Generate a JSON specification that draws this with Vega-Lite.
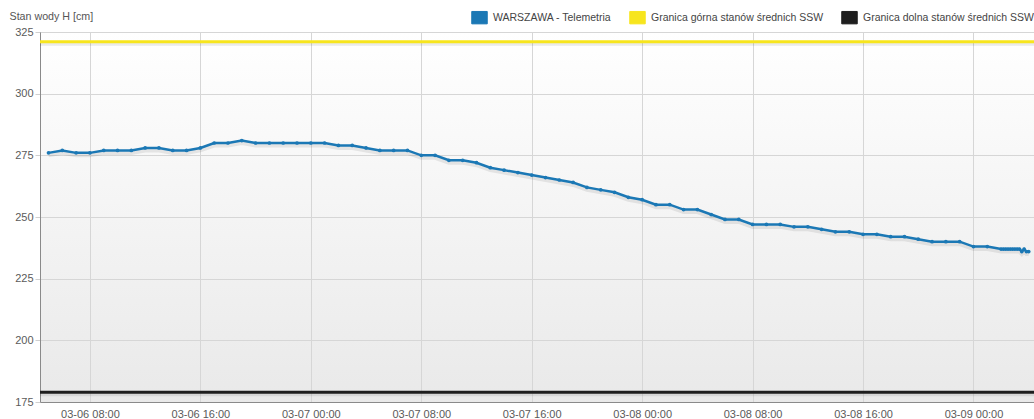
{
  "$schema": "https://vega.github.io/schema/vega-lite/v6.json",
  "width": 994,
  "height": 370,
  "autosize": {"type": "none"},
  "padding": {"left": 40, "top": 32, "right": 0, "bottom": 17},
  "background": "#ffffff",
  "config": {
    "font": "Liberation Sans",
    "view": {
      "stroke": "#9a9a9a",
      "fill": {"gradient": "linear", "x1": 0, "y1": 0, "x2": 0, "y2": 1,
        "stops": [{"offset": 0, "color": "#ffffff"}, {"offset": 1, "color": "#e9e9e9"}]}
    },
    "axis": {
      "gridColor": "#d6d6d6",
      "domainColor": "#8a8a8a",
      "labelColor": "#5a5a5a",
      "labelFontSize": 11,
      "tickColor": "#cfcfcf",
      "labelFlush": false
    }
  },
  "datasets": {
    "tel": [
      {"t": "2024-03-06T05:00:00Z", "v": 276, "s": "WARSZAWA - Telemetria"},
      {"t": "2024-03-06T06:00:00Z", "v": 277, "s": "WARSZAWA - Telemetria"},
      {"t": "2024-03-06T07:00:00Z", "v": 276, "s": "WARSZAWA - Telemetria"},
      {"t": "2024-03-06T08:00:00Z", "v": 276, "s": "WARSZAWA - Telemetria"},
      {"t": "2024-03-06T09:00:00Z", "v": 277, "s": "WARSZAWA - Telemetria"},
      {"t": "2024-03-06T10:00:00Z", "v": 277, "s": "WARSZAWA - Telemetria"},
      {"t": "2024-03-06T11:00:00Z", "v": 277, "s": "WARSZAWA - Telemetria"},
      {"t": "2024-03-06T12:00:00Z", "v": 278, "s": "WARSZAWA - Telemetria"},
      {"t": "2024-03-06T13:00:00Z", "v": 278, "s": "WARSZAWA - Telemetria"},
      {"t": "2024-03-06T14:00:00Z", "v": 277, "s": "WARSZAWA - Telemetria"},
      {"t": "2024-03-06T15:00:00Z", "v": 277, "s": "WARSZAWA - Telemetria"},
      {"t": "2024-03-06T16:00:00Z", "v": 278, "s": "WARSZAWA - Telemetria"},
      {"t": "2024-03-06T17:00:00Z", "v": 280, "s": "WARSZAWA - Telemetria"},
      {"t": "2024-03-06T18:00:00Z", "v": 280, "s": "WARSZAWA - Telemetria"},
      {"t": "2024-03-06T19:00:00Z", "v": 281, "s": "WARSZAWA - Telemetria"},
      {"t": "2024-03-06T20:00:00Z", "v": 280, "s": "WARSZAWA - Telemetria"},
      {"t": "2024-03-06T21:00:00Z", "v": 280, "s": "WARSZAWA - Telemetria"},
      {"t": "2024-03-06T22:00:00Z", "v": 280, "s": "WARSZAWA - Telemetria"},
      {"t": "2024-03-06T23:00:00Z", "v": 280, "s": "WARSZAWA - Telemetria"},
      {"t": "2024-03-07T00:00:00Z", "v": 280, "s": "WARSZAWA - Telemetria"},
      {"t": "2024-03-07T01:00:00Z", "v": 280, "s": "WARSZAWA - Telemetria"},
      {"t": "2024-03-07T02:00:00Z", "v": 279, "s": "WARSZAWA - Telemetria"},
      {"t": "2024-03-07T03:00:00Z", "v": 279, "s": "WARSZAWA - Telemetria"},
      {"t": "2024-03-07T04:00:00Z", "v": 278, "s": "WARSZAWA - Telemetria"},
      {"t": "2024-03-07T05:00:00Z", "v": 277, "s": "WARSZAWA - Telemetria"},
      {"t": "2024-03-07T06:00:00Z", "v": 277, "s": "WARSZAWA - Telemetria"},
      {"t": "2024-03-07T07:00:00Z", "v": 277, "s": "WARSZAWA - Telemetria"},
      {"t": "2024-03-07T08:00:00Z", "v": 275, "s": "WARSZAWA - Telemetria"},
      {"t": "2024-03-07T09:00:00Z", "v": 275, "s": "WARSZAWA - Telemetria"},
      {"t": "2024-03-07T10:00:00Z", "v": 273, "s": "WARSZAWA - Telemetria"},
      {"t": "2024-03-07T11:00:00Z", "v": 273, "s": "WARSZAWA - Telemetria"},
      {"t": "2024-03-07T12:00:00Z", "v": 272, "s": "WARSZAWA - Telemetria"},
      {"t": "2024-03-07T13:00:00Z", "v": 270, "s": "WARSZAWA - Telemetria"},
      {"t": "2024-03-07T14:00:00Z", "v": 269, "s": "WARSZAWA - Telemetria"},
      {"t": "2024-03-07T15:00:00Z", "v": 268, "s": "WARSZAWA - Telemetria"},
      {"t": "2024-03-07T16:00:00Z", "v": 267, "s": "WARSZAWA - Telemetria"},
      {"t": "2024-03-07T17:00:00Z", "v": 266, "s": "WARSZAWA - Telemetria"},
      {"t": "2024-03-07T18:00:00Z", "v": 265, "s": "WARSZAWA - Telemetria"},
      {"t": "2024-03-07T19:00:00Z", "v": 264, "s": "WARSZAWA - Telemetria"},
      {"t": "2024-03-07T20:00:00Z", "v": 262, "s": "WARSZAWA - Telemetria"},
      {"t": "2024-03-07T21:00:00Z", "v": 261, "s": "WARSZAWA - Telemetria"},
      {"t": "2024-03-07T22:00:00Z", "v": 260, "s": "WARSZAWA - Telemetria"},
      {"t": "2024-03-07T23:00:00Z", "v": 258, "s": "WARSZAWA - Telemetria"},
      {"t": "2024-03-08T00:00:00Z", "v": 257, "s": "WARSZAWA - Telemetria"},
      {"t": "2024-03-08T01:00:00Z", "v": 255, "s": "WARSZAWA - Telemetria"},
      {"t": "2024-03-08T02:00:00Z", "v": 255, "s": "WARSZAWA - Telemetria"},
      {"t": "2024-03-08T03:00:00Z", "v": 253, "s": "WARSZAWA - Telemetria"},
      {"t": "2024-03-08T04:00:00Z", "v": 253, "s": "WARSZAWA - Telemetria"},
      {"t": "2024-03-08T05:00:00Z", "v": 251, "s": "WARSZAWA - Telemetria"},
      {"t": "2024-03-08T06:00:00Z", "v": 249, "s": "WARSZAWA - Telemetria"},
      {"t": "2024-03-08T07:00:00Z", "v": 249, "s": "WARSZAWA - Telemetria"},
      {"t": "2024-03-08T08:00:00Z", "v": 247, "s": "WARSZAWA - Telemetria"},
      {"t": "2024-03-08T09:00:00Z", "v": 247, "s": "WARSZAWA - Telemetria"},
      {"t": "2024-03-08T10:00:00Z", "v": 247, "s": "WARSZAWA - Telemetria"},
      {"t": "2024-03-08T11:00:00Z", "v": 246, "s": "WARSZAWA - Telemetria"},
      {"t": "2024-03-08T12:00:00Z", "v": 246, "s": "WARSZAWA - Telemetria"},
      {"t": "2024-03-08T13:00:00Z", "v": 245, "s": "WARSZAWA - Telemetria"},
      {"t": "2024-03-08T14:00:00Z", "v": 244, "s": "WARSZAWA - Telemetria"},
      {"t": "2024-03-08T15:00:00Z", "v": 244, "s": "WARSZAWA - Telemetria"},
      {"t": "2024-03-08T16:00:00Z", "v": 243, "s": "WARSZAWA - Telemetria"},
      {"t": "2024-03-08T17:00:00Z", "v": 243, "s": "WARSZAWA - Telemetria"},
      {"t": "2024-03-08T18:00:00Z", "v": 242, "s": "WARSZAWA - Telemetria"},
      {"t": "2024-03-08T19:00:00Z", "v": 242, "s": "WARSZAWA - Telemetria"},
      {"t": "2024-03-08T20:00:00Z", "v": 241, "s": "WARSZAWA - Telemetria"},
      {"t": "2024-03-08T21:00:00Z", "v": 240, "s": "WARSZAWA - Telemetria"},
      {"t": "2024-03-08T22:00:00Z", "v": 240, "s": "WARSZAWA - Telemetria"},
      {"t": "2024-03-08T23:00:00Z", "v": 240, "s": "WARSZAWA - Telemetria"},
      {"t": "2024-03-09T00:00:00Z", "v": 238, "s": "WARSZAWA - Telemetria"},
      {"t": "2024-03-09T01:00:00Z", "v": 238, "s": "WARSZAWA - Telemetria"},
      {"t": "2024-03-09T02:00:00Z", "v": 237, "s": "WARSZAWA - Telemetria"},
      {"t": "2024-03-09T02:10:00Z", "v": 237, "s": "WARSZAWA - Telemetria"},
      {"t": "2024-03-09T02:20:00Z", "v": 237, "s": "WARSZAWA - Telemetria"},
      {"t": "2024-03-09T02:30:00Z", "v": 237, "s": "WARSZAWA - Telemetria"},
      {"t": "2024-03-09T02:40:00Z", "v": 237, "s": "WARSZAWA - Telemetria"},
      {"t": "2024-03-09T02:50:00Z", "v": 237, "s": "WARSZAWA - Telemetria"},
      {"t": "2024-03-09T03:00:00Z", "v": 237, "s": "WARSZAWA - Telemetria"},
      {"t": "2024-03-09T03:10:00Z", "v": 237, "s": "WARSZAWA - Telemetria"},
      {"t": "2024-03-09T03:20:00Z", "v": 237, "s": "WARSZAWA - Telemetria"},
      {"t": "2024-03-09T03:30:00Z", "v": 236, "s": "WARSZAWA - Telemetria"},
      {"t": "2024-03-09T03:40:00Z", "v": 237, "s": "WARSZAWA - Telemetria"},
      {"t": "2024-03-09T03:50:00Z", "v": 236, "s": "WARSZAWA - Telemetria"},
      {"t": "2024-03-09T04:00:00Z", "v": 236, "s": "WARSZAWA - Telemetria"}
    ],
    "bounds": [
      {"s": "Granica górna stanów średnich SSW", "v": 321},
      {"s": "Granica dolna stanów średnich SSW", "v": 179}
    ]
  },
  "layer": [
    {
      "data": {"name": "bounds"},
      "mark": {"type": "rule", "strokeWidth": 4, "color": "#000000", "opacity": 0.08, "yOffset": 2},
      "encoding": {"y": {"field": "v", "type": "quantitative"}}
    },
    {
      "data": {"name": "bounds"},
      "mark": {"type": "rule", "strokeWidth": 3},
      "encoding": {
        "y": {"field": "v", "type": "quantitative"},
        "color": {"field": "s", "type": "nominal"}
      }
    },
    {
      "data": {"name": "tel"},
      "mark": {"type": "line", "strokeWidth": 4, "color": "#000000", "opacity": 0.08, "yOffset": 2.5},
      "encoding": {
        "x": {"field": "t", "type": "temporal"},
        "y": {"field": "v", "type": "quantitative"}
      }
    },
    {
      "data": {"name": "tel"},
      "mark": {"type": "line", "strokeWidth": 2.5, "point": {"filled": true, "size": 14}},
      "encoding": {
        "x": {
          "field": "t", "type": "temporal",
          "scale": {"type": "utc", "domain": [
            {"year": 2024, "month": 3, "date": 6, "hours": 4, "minutes": 23, "utc": true},
            {"year": 2024, "month": 3, "date": 9, "hours": 4, "minutes": 23, "utc": true}
          ]},
          "axis": {
            "title": null,
            "format": "%m-%d %H:%M",
            "values": [
              {"year": 2024, "month": 3, "date": 6, "hours": 8, "utc": true},
              {"year": 2024, "month": 3, "date": 6, "hours": 16, "utc": true},
              {"year": 2024, "month": 3, "date": 7, "hours": 0, "utc": true},
              {"year": 2024, "month": 3, "date": 7, "hours": 8, "utc": true},
              {"year": 2024, "month": 3, "date": 7, "hours": 16, "utc": true},
              {"year": 2024, "month": 3, "date": 8, "hours": 0, "utc": true},
              {"year": 2024, "month": 3, "date": 8, "hours": 8, "utc": true},
              {"year": 2024, "month": 3, "date": 8, "hours": 16, "utc": true},
              {"year": 2024, "month": 3, "date": 9, "hours": 0, "utc": true}
            ],
            "tickSize": 0,
            "labelPadding": 6,
            "labelOverlap": false
          }
        },
        "y": {
          "field": "v", "type": "quantitative",
          "scale": {"domain": [175, 325], "nice": false, "zero": false},
          "axis": {
            "values": [175, 200, 225, 250, 275, 300, 325],
            "title": "Stan wody H [cm]",
            "titleAngle": 0,
            "titleAlign": "left",
            "titleBaseline": "middle",
            "titleX": -31,
            "titleY": -16,
            "titleFontWeight": "normal",
            "titleFontSize": 10.7,
            "titleColor": "#555555",
            "tickSize": 5,
            "labelPadding": 2
          }
        },
        "color": {
          "field": "s", "type": "nominal",
          "scale": {
            "domain": ["WARSZAWA - Telemetria", "Granica górna stanów średnich SSW", "Granica dolna stanów średnich SSW"],
            "range": ["#1b78b5", "#f7e51e", "#1e1e1e"]
          },
          "legend": {
            "title": null,
            "orient": "none",
            "legendX": 431,
            "legendY": -23,
            "direction": "horizontal",
            "padding": 0,
            "symbolType": "M-1,-0.8H1V0.8H-1Z",
            "symbolSize": 240,
            "symbolStrokeWidth": 1,
            "symbolStrokeColor": "#b0b0b0",
            "labelFontSize": 10.5,
            "labelColor": "#444444",
            "labelOffset": 5,
            "labelLimit": 300,
            "columnPadding": 15,
            "encode": {
              "symbols": {"update": {"fill": {"scale": "color", "field": "value"}, "fillOpacity": {"value": 1}, "opacity": {"value": 1}}}
            }
          }
        }
      }
    }
  ]
}
